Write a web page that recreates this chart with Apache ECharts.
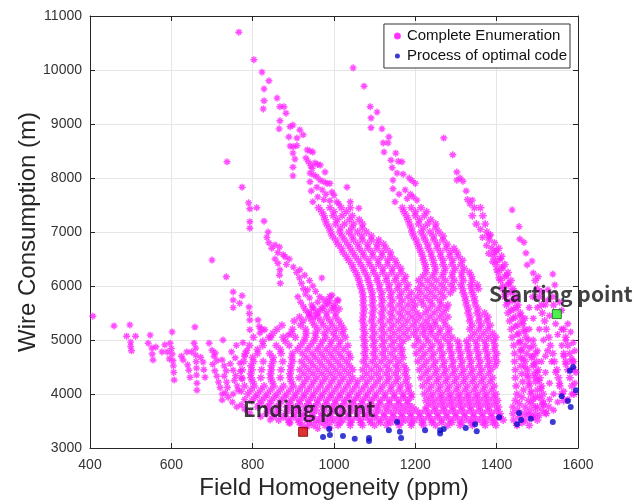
<!DOCTYPE html>
<html><head><meta charset="utf-8">
<script src="https://cdn.jsdelivr.net/npm/echarts/dist/echarts.min.js"></script>
<style>html,body{margin:0;padding:0;background:#fff}#c{width:642px;height:501px}</style>
</head><body><div id="c"></div>
<script>
// ---- Data ----
const xTicks = [400, 600, 800, 1000, 1200, 1400, 1600];
const yTicks = [3000, 4000, 5000, 6000, 7000, 8000, 9000, 10000, 11000];

// Sparse tops of the four diagonal bands (x ppm, y m)
const bandATop = [[766,10700],[803,10190],[823,9960],[840,9800],[828,9650],[860,9480],[828,9430],[867,9320],[877,9320],[826,9280],[882,9200],[867,9060],[899,8980],[892,8950],[865,8910],[916,8890],[924,8800],[889,8760],[909,8740],[892,8590],[900,8580],[909,8600],[934,8520],[941,8500],[948,8480],[899,8460],[931,8370],[904,8350],[937,8300],[953,8280],[943,8230],[960,8250],[966,8240],[899,8200],[946,8180],[941,8090],[978,8110],[950,8060],[899,8040],[958,8020],[966,7960],[975,7930],[983,7900],[941,7930],[990,7900],[958,7830],[1032,7830],[971,7780],[995,7740],[944,7760],[980,7700],[1000,7680],[960,7650],[975,7600],[990,7580],[1007,7560],[948,7560],[1012,7520],[1061,7440],[1040,7560]];
const bandBTop = [[1047,10040],[1074,9700],[1089,9320],[1106,9220],[1091,9110],[1091,8930],[1118,8910],[1135,8760],[1121,8650],[1133,8650],[1123,8480],[1152,8460],[1140,8330],[1158,8310],[1167,8300],[1143,8190],[1155,8090],[1145,7960],[1145,7800],[1170,8070],[1185,8000],[1192,7950],[1200,7900],[1175,7780],[1188,7700],[1195,7650],[1204,7590],[1160,7700],[1180,7620],[1150,7560]];
const bandCTop = [[1270,8740],[1292,8430],[1302,8110],[1310,8000],[1317,7940],[1302,7960],[1325,7760],[1328,7600],[1340,7590],[1334,7520]];
const bandCBody = [[1385,6950],[1395,6800],[1400,6650],[1410,6500],[1415,6350],[1425,6200],[1430,6050],[1440,5900],[1445,5750],[1450,5600],[1460,5450],[1465,5300],[1470,5150],[1478,5000],[1482,4850],[1488,4700],[1492,4550],[1500,4400],[1505,4250],[1510,4100],[1360,7050],[1365,6900],[1375,6750],[1380,6600],[1390,6450],[1400,6300],[1405,6150],[1415,6000],[1420,5850],[1428,5700],[1435,5550],[1440,5400],[1445,5250],[1450,5100],[1455,4950],[1460,4800],[1465,4650],[1470,4500],[1475,4350],[1480,4200],[1485,4050],[1490,3900],[1495,3750]];
const bandDTop = [[1438,7410],[1455,7100],[1457,6870],[1467,6810],[1472,6610],[1487,6460],[1475,6390],[1490,6240],[1502,6170],[1538,6220],[1526,5930],[1526,5740],[1538,5800],[1543,6020],[1555,5700],[1560,5550],[1575,5300],[1582,5150],[1588,4950],[1592,4800],[1585,4650]];
const bandDBody = [[1510,5900],[1520,5650],[1530,5450],[1545,5300],[1550,5100],[1560,4900],[1565,4700],[1570,4550],[1500,5600],[1490,5400],[1505,5200],[1515,5000],[1525,4800],[1535,4600],[1545,4400],[1555,4200],[1565,4050],[1575,3900],[1488,5800],[1480,5600],[1470,5400],[1480,5200],[1490,5000],[1500,4800],[1510,4600],[1520,4400],[1530,4200],[1540,4000],[1550,3850],[1540,3700],[1520,3650],[1505,3600],[1490,3560],[1478,3620],[1515,3800],[1505,3950],[1530,3900],[1495,4300],[1520,4700],[1560,5200],[1570,5000],[1590,4600],[1595,4400],[1592,4200],[1585,4000]];
// Narrow band coming down from (737, 8300)
const bandUpperLeft = [[737,8300],[774,7830],[790,7540],[810,7450],[793,7430],[793,7190],[828,7200],[793,7070],[838,7000],[835,6900],[840,6800],[847,6700],[855,6760],[866,6720],[862,6620],[875,6580],[880,6540],[890,6500],[855,6500],[862,6420],[867,6300],[866,6200],[868,6050],[883,6400],[900,6350],[908,6250],[915,6150],[920,6050],[925,5950],[935,5930],[911,5800],[918,5700],[925,5620],[930,5550],[940,5480],[950,5430],[958,5500],[945,5650],[940,5780],[930,5850],[970,6150],[995,5830],[916,6300],[928,6200],[940,6100],[948,6000],[955,5900],[965,5800],[960,5700],[975,5750],[985,5680],[1000,5600],[1010,5740],[948,5600],[968,5580]];
// Sparse fan on the left (x 400-830)
const bandLeft = [[407,5440],[459,5260],[498,5280],[490,5070],[512,5070],[500,4960],[500,4880],[502,4800],[548,5090],[543,4940],[552,4850],[553,4740],[555,4630],[562,4870],[577,4780],[584,4910],[602,5150],[597,4940],[600,4840],[602,4740],[604,4620],[605,4520],[606,4400],[607,4260],[595,4650],[590,4780],[629,4630],[638,4780],[650,4780],[640,4540],[643,4440],[646,4310],[625,4700],[658,5240],[656,4940],[660,4850],[660,4720],[661,4600],[662,4480],[662,4350],[663,4200],[663,4070],[678,4590],[680,4450],[683,4310],[672,4680],[693,4940],[700,4810],[705,4700],[712,4620],[702,4550],[707,4430],[712,4330],[716,4220],[720,4120],[725,4000],[725,3890],[708,4760],[727,5000],[725,4630],[730,4520],[735,4430],[730,4330],[736,4220],[738,4120],[733,4020],[740,3940],[757,4670],[752,4440],[758,4340],[755,4250],[762,4150],[764,4070],[769,4570],[745,4560],[748,4780],[760,4900],[750,3850],[761,3760],[772,3800],[780,3720],[793,3650],[752,4000],[770,4420],[775,4280],[772,4050],[780,3900],[700,6480],[735,6170],[752,5890],[752,5740],[752,5600],[774,5820],[768,5680],[791,5610],[792,5490],[793,5370],[793,5190],[786,4810],[780,4700],[776,4950],[813,5370],[816,5250],[818,5130],[830,5190],[845,5050],[887,5090],[820,3580],[843,3520],[892,3460],[934,3390],[960,3360],[990,3370]];
// Dense body: each row = [y, x1, x2, ...]
const denseRows = [
[7450, 962,990,1018,1040, 1168,1190,1214, 1345,1360],
[7375, 970,1000,1030, 1172,1200,1228],
[7300, 975,998,1020,1045, 1178,1200,1222, 1340,1366],
[7225, 978,1008,1038,1062, 1182,1210,1238],
[7150, 982,1004,1026,1048,1070, 1186,1208,1230,1250, 1350,1372],
[7075, 988,1016,1044,1070, 1190,1220,1250],
[7000, 992,1014,1036,1058,1080, 1192,1214,1236,1258, 1376],
[6925, 996,1020,1044,1068,1092, 1196,1220,1244,1268, 1380],
[6850, 1004,1026,1048,1070,1092,1110, 1202,1224,1246,1268, 1382],
[6775, 1010,1034,1058,1082,1106,1122, 1206,1230,1254,1278],
[6700, 1018,1040,1062,1084,1106,1128, 1210,1232,1254,1276,1295, 1388,1405],
[6625, 1022,1046,1070,1094,1118,1138, 1214,1238,1262,1286,1302, 1395],
[6550, 1030,1052,1074,1096,1118,1140, 1218,1240,1262,1284,1306, 1392,1412],
[6475, 1036,1060,1084,1108,1132,1150, 1220,1244,1268,1292,1316, 1402],
[6400, 1044,1066,1088,1110,1132,1155, 1224,1246,1268,1290,1312, 1398,1420],
[6325, 1048,1072,1096,1120,1144,1164, 1226,1250,1274,1298,1320, 1412],
[6250, 1054,1076,1098,1120,1142,1165, 1226,1248,1270,1292,1314,1333, 1404,1428],
[6175, 1058,1082,1106,1130,1154,1176, 1218,1242,1266,1290,1314,1338, 1420],
[6100, 1062,1084,1106,1128,1150,1172, 1208,1230,1252,1274,1296,1318,1340, 1410,1435, 1495],
[6025, 1064,1088,1112,1136,1160,1182, 1216,1240,1264,1288,1312,1336,1352, 1428],
[5950, 1068,1090,1112,1134,1156,1178, 1206,1228,1250,1272,1294,1316,1338,1355, 1414,1440, 1500],
[5875, 1070,1094,1118,1142,1166,1190, 1214,1238,1262,1286, 1318,1340, 1434],
[5800, 990, 1072,1094,1116,1138,1160,1182, 1204,1226,1248,1270, 1322,1344, 1420,1448, 1505],
[5725, 988,1008, 1072,1096,1120,1144,1168,1192, 1214,1236,1260, 1324,1346, 1438],
[5650, 978,1000, 1072,1094,1116,1138,1160,1182,1200, 1220,1242,1264,1280, 1326,1348, 1424,1452, 1510,1540],
[5575, 950,972,994,1012, 1074,1098,1122,1146,1170,1194, 1232,1256,1276, 1330,1354, 1442],
[5500, 938,960,982,1004, 1072,1094,1116,1138,1160,1182,1204, 1224,1246,1268, 1330,1352,1370, 1428,1458, 1512],
[5425, 915,938,960,982,1004, 1072,1096,1120,1144,1168,1192,1212, 1236,1260,1280, 1334,1358,1378, 1446],
[5350, 902,924,946,968,990,1012, 1070,1092,1114,1136,1158,1180,1202, 1226,1248,1270, 1334,1356,1376, 1432,1462, 1518],
[5275, 872,918,952,974,996,1018, 1074,1098,1122,1146,1170,1194,1216,1234, 1250,1275, 1340,1362,1384, 1452],
[5200, 822,860,898,930,960,985,1006,1024, 1072,1094,1116,1138,1160,1182,1204,1224, 1240,1262,1284, 1334,1356,1378, 1436,1468, 1522,1565],
[5125, 850,895,932,954,976,998,1020, 1076,1100,1124,1148,1172,1196,1218,1238, 1258,1280, 1345,1368,1390, 1455],
[5050, 802,840,875,905,930,955,980,1005,1028, 1072,1094,1116,1138,1160,1182,1204,1226, 1248,1270,1290, 1336,1358,1380,1398, 1438,1472, 1528,1570],
[4975, 825,880,926,950,972,994,1016, 1076,1100,1124,1148,1170, 1208,1232,1256,1280,1304,1326,1348,1370,1392, 1458],
[4900, 792,825,858,890,918,942,966,990,1012,1034, 1074,1096,1118,1140,1162, 1198,1220,1242,1264,1286,1308,1330,1352,1374,1396, 1442,1470,1490, 1532,1575],
[4825, 812,868,910,934,958,980,1002,1024, 1078,1102,1126,1150,1168, 1212,1236,1260,1284,1306,1328,1350,1372,1394, 1460],
[4750, 782,812,842,870,898,922,946,968,990,1012,1036, 1074,1096,1118,1140,1165, 1202,1224,1246,1268,1290,1312,1334,1356,1378,1400, 1444,1474,1496, 1538,1565,1580],
[4675, 800,850,896,932,954,976,998,1020,1040, 1078,1102,1126,1150,1170, 1216,1240,1264,1288,1310,1332,1354,1376,1396, 1458,1486],
[4600, 778,802,826,850,874,898,920,942,964,986,1008,1030, 1072,1094,1116,1138,1160, 1206,1228,1250,1272,1294,1316,1338,1360,1382,1400, 1444,1470,1498, 1542,1570,1585],
[4525, 796,846,894,928,950,972,994,1016,1038, 1080,1104,1128,1152,1172, 1220,1244,1268,1290,1312,1334,1356,1378,1396, 1460,1490],
[4450, 774,798,822,846,870,894,916,938,960,982,1004,1026,1046, 1070,1092,1114,1136,1158,1178, 1210,1232,1254,1276,1298,1320,1342,1364,1386, 1446,1476,1502, 1548,1575,1590],
[4375, 795,844,892,926,948,970,992,1014,1036, 1080,1104,1128,1150,1174, 1224,1248,1270,1292,1314,1336,1358,1380, 1462,1492],
[4300, 772,796,820,844,868,892,914,936,958,980,1002,1024,1046, 1070,1092,1114,1136,1158,1180, 1214,1236,1258,1280,1302,1324,1346,1368,1390, 1446,1478,1506, 1552,1580],
[4225, 800,848,895,928,950,972,994,1016,1038,1058, 1082,1106,1130,1152,1176, 1228,1252,1274,1296,1318,1340,1362,1384, 1464,1496],
[4150, 780,804,828,852,876,900,922,944,966,988,1010,1032,1054,1076,1098,1120,1142,1164,1184, 1218,1240,1262,1284,1306,1328,1350,1372,1394, 1448,1480,1510, 1555,1585],
[4075, 796,820,844,868,892,914,936,958,980,1002,1024,1046,1068,1090,1114,1138,1160,1182, 1232,1256,1278,1300,1322,1344,1366,1388, 1466,1500],
[4000, 788,812,836,860,884,906,928,950,972,994,1016,1038,1060,1082,1104,1126,1148,1170,1190, 1222,1244,1266,1288,1310,1332,1354,1376,1398, 1450,1484,1514, 1560,1590],
[3940, 806,830,854,878,902,924,946,968,990,1012,1034,1056,1078,1100,1124,1148,1170,1190, 1236,1260,1282,1304,1326,1348,1370,1392, 1462,1496],
[3880, 798,822,846,870,894,916,938,960,982,1004,1026,1048,1070,1092,1114,1136,1158,1180, 1226,1248,1270,1292,1314,1336,1358,1380,1402, 1446,1478,1512, 1565],
[3820, 818,842,866,890,914,936,958,980,1002,1024,1046,1068,1090,1112,1136,1160,1182, 1238,1262,1284,1306,1328,1350,1372,1394, 1456,1486,1515],
[3760, 812,836,860,884,906,928,950,972,994,1016,1038,1060,1082,1104,1126,1148,1170,1192, 1228,1250,1272,1294,1316,1338,1360,1382,1404, 1440,1470,1500,1528],
[3700, 840,864,888,912,934,956,978,1000,1022,1044,1066,1088,1110,1134,1158,1180,1202,1224,1246,1268,1290,1312,1334,1356,1378,1400, 1452,1482,1512],
[3640, 834,858,882,904,926,948,970,992,1014,1036,1058,1080,1102,1124,1146,1168,1190,1212,1234,1256,1278,1300,1322,1344,1366,1388,1408, 1440,1468,1496,1522],
[3580, 850,876,900,924,946,968,990,1012,1034,1056,1078,1100,1122,1144,1166,1188,1210,1232,1254,1276,1298,1320,1342,1364,1386,1408, 1456,1486],
[3520, 864,888,912,934,956,978,1000,1022,1044,1066,1088,1110,1132,1154,1176,1198,1220,1242,1264,1286,1308,1330,1352,1374,1396,1416, 1442,1470,1500],
[3470, 890,915,940,965,990,1015,1040,1065,1090,1115,1140,1165,1190,1215,1240,1265,1290,1315,1340,1365,1390, 1462],
[3420, 922,950,978,1010,1040,1070,1100,1130,1160,1190,1220,1250,1280,1310,1340,1372,1398, 1450,1480]
];
// Process of optimal code (blue)
const optimalX = [973,988,990,1022,1051,1086,1086,1135,1155,1162,1165,1224,1261,1261,1270,1324,1347,1351,1406,1450,1455,1460,1484,1538,1560,1575,1580,1582,1588,1595];
const optimalY = [3204,3350,3240,3220,3170,3185,3130,3330,3480,3300,3185,3330,3330,3270,3350,3370,3440,3310,3570,3440,3650,3520,3540,3480,3960,3870,4430,3760,4500,4070];
const startPoint = [1548, 5480];
const endPoint = [924, 3300];
const labels = { start: 'Starting point', end: 'Ending point' };

// ---- Build series data ----
const sparsePoints = [].concat(bandATop, bandBTop, bandCTop, bandCBody, bandDTop, bandDBody, bandUpperLeft, bandLeft);
const densePoints = [];
denseRows.forEach(r => { for (let i = 1; i < r.length; i++) densePoints.push([r[i], r[0]]); });
const optimalPoints = optimalX.map((x, i) => [x, optimalY[i]]);

const axisColor = '#262626';
const font = 'Liberation Sans, Arial, sans-serif';
const boldFont = 'Noto Sans CJK KR, DejaVu Sans, sans-serif';
const star = 'path://M5,0L5,10M0,5L10,5M1.6,1.6L8.4,8.4M1.6,8.4L8.4,1.6';
const plain = v => String(v);
const chart = echarts.init(document.getElementById('c'), null, { renderer: 'canvas' });
chart.setOption({
  animation: false,
  backgroundColor: '#fff',
  textStyle: { fontFamily: font },
  grid: { left: 90, right: 64, top: 16, bottom: 53, containLabel: false, outerBoundsMode: 'none' },
  legend: {
    orient: 'vertical', right: 72, top: 24,
    backgroundColor: '#fff', borderColor: '#333', borderWidth: 1,
    padding: [3, 3, 3, 10], itemGap: 2, itemWidth: 5, itemHeight: 5,
    textStyle: { fontSize: 15, lineHeight: 18, color: '#111', fontFamily: font, padding: [0, 0, 0, 2] },
    data: [{ name: 'Complete Enumeration', icon: 'circle' }, { name: 'Process of optimal code', icon: 'circle' }]
  },
  xAxis: [{
    type: 'value', min: 400, max: 1600, interval: 200, position: 'bottom',
    name: 'Field Homogeneity (ppm)', nameLocation: 'middle', nameGap: 28, nameMoveOverlap: false,
    nameTextStyle: { fontSize: 24, color: axisColor, fontFamily: font },
    axisLine: { show: true, lineStyle: { color: axisColor, width: 1 } },
    axisTick: { show: true, inside: true, length: 5, lineStyle: { color: axisColor } },
    axisLabel: { fontSize: 14, color: '#333', margin: 10, formatter: plain },
    splitLine: { show: true, lineStyle: { color: '#e6e6e6', width: 1 } }
  }, {
    type: 'value', min: 400, max: 1600, interval: 200, position: 'top',
    axisLine: { show: true, onZero: false, lineStyle: { color: axisColor, width: 1 } },
    axisTick: { show: true, inside: true, length: 5, lineStyle: { color: axisColor } },
    axisLabel: { show: false }, splitLine: { show: false }
  }],
  yAxis: [{
    type: 'value', min: 3000, max: 11000, interval: 1000, position: 'left',
    name: 'Wire Consumption (m)', nameLocation: 'middle', nameGap: 50, nameRotate: 90, nameMoveOverlap: false,
    nameTextStyle: { fontSize: 24, color: axisColor, fontFamily: font },
    axisLine: { show: true, lineStyle: { color: axisColor, width: 1 } },
    axisTick: { show: true, inside: true, length: 5, lineStyle: { color: axisColor } },
    axisLabel: { fontSize: 14, color: '#333', margin: 8, formatter: plain },
    splitLine: { show: true, lineStyle: { color: '#e6e6e6', width: 1 } }
  }, {
    type: 'value', min: 3000, max: 11000, interval: 1000, position: 'right',
    axisLine: { show: true, onZero: false, lineStyle: { color: axisColor, width: 1 } },
    axisTick: { show: true, inside: true, length: 5, lineStyle: { color: axisColor } },
    axisLabel: { show: false }, splitLine: { show: false }
  }],
  series: [{
    name: 'Complete Enumeration', type: 'scatter', data: densePoints,
    symbol: star, symbolSize: 8,
    itemStyle: { color: '#ff00ff', borderColor: '#ff22ff', borderWidth: 1.5 },
    emphasis: { disabled: true }
  }, {
    name: 'Complete Enumeration', type: 'scatter', data: sparsePoints,
    symbol: star, symbolSize: 7,
    itemStyle: { color: '#ff00ff', borderColor: '#ff22ff', borderWidth: 1.4 },
    emphasis: { disabled: true }
  }, {
    name: 'Process of optimal code', type: 'scatter', data: optimalPoints,
    symbol: 'circle', symbolSize: 6, itemStyle: { color: '#0a0ac8' }, z: 3
  }, {
    name: 'end', type: 'scatter', data: [endPoint], symbol: 'rect', symbolSize: 9, z: 4,
    itemStyle: { color: '#d40000', borderColor: '#7a0000', borderWidth: 1 },
    label: { show: true, position: 'top', distance: 7, offset: [6, 0], formatter: labels.end,
      fontSize: 21, fontWeight: 'bold', color: '#111', fontFamily: boldFont }
  }, {
    name: 'start', type: 'scatter', data: [startPoint], symbol: 'rect', symbolSize: 9, z: 4,
    itemStyle: { color: '#22ee22', borderColor: '#116611', borderWidth: 1 },
    label: { show: true, position: 'top', distance: 5, offset: [4, 0], formatter: labels.start,
      fontSize: 21, fontWeight: 'bold', color: '#111', fontFamily: boldFont }
  }]
});
</script>
</body></html>
